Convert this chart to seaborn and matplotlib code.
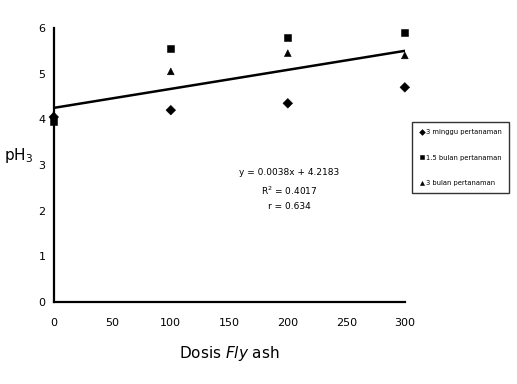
import numpy as np
import pandas as pd
import matplotlib
matplotlib.use('Agg')
import matplotlib.pyplot as plt
import seaborn as sns

dosis = [0, 100, 200, 300]
ph_3minggu = [4.05, 4.2, 4.35, 4.7]
ph_15bulan = [3.95, 5.55, 5.8, 5.9]
ph_3bulan = [4.1, 5.05, 5.45, 5.4]
labels = ['3 minggu pertanaman', '1.5 bulan pertanaman', '3 bulan pertanaman']
markers = ['D', 's', '^']
line_x = [0, 300]
line_y = [4.25, 5.5]

sns.set_style('white')
plt.rcParams['font.family'] = ['DejaVu Sans']
plt.rcParams['text.color'] = 'black'
plt.rcParams['axes.labelcolor'] = 'black'
plt.rcParams['xtick.color'] = 'black'
plt.rcParams['ytick.color'] = 'black'

rows = []
for lab, vals in zip(labels, [ph_3minggu, ph_15bulan, ph_3bulan]):
    for d, v in zip(dosis, vals):
        rows.append({'dosis': d, 'ph': v, 'waktu': lab})
df = pd.DataFrame(rows)

fig = plt.figure(figsize=(5.17, 3.84), dpi=100)
ax = fig.add_axes([0.104, 0.214, 0.679, 0.713])

sns.scatterplot(df, x='dosis', y='ph', hue='waktu', style='waktu',
                markers=dict(zip(labels, markers)),
                palette=['black'] * 3, s=24, edgecolor='black', ax=ax, legend=True,
                clip_on=False, zorder=5)
sns.lineplot(x=line_x, y=line_y, color='black', lw=1.8, ax=ax)

ax.set_xlim(0, 300)
ax.set_ylim(0, 6)
ax.set_xticks(range(0, 301, 50))
ax.set_yticks(range(0, 7))
ax.tick_params(direction='inout', length=5, width=1, labelsize=8, color='black')
ax.tick_params(axis='x', pad=9)
for s in ['top', 'right']:
    ax.spines[s].set_visible(False)
for s in ['left', 'bottom']:
    ax.spines[s].set_linewidth(1.6)
    ax.spines[s].set_color('black')
ax.set_xlabel('Dosis $\\it{Fly}$ ash', fontsize=11, labelpad=12)
ax.set_ylabel('pH$_3$', fontsize=11, rotation=0, labelpad=14)

ax.text(0.67, 0.41, 'y = 0.0038x + 4.2183\nR$^2$ = 0.4017\nr = 0.634',
        transform=ax.transAxes, ha='center', va='center', fontsize=6.5, linespacing=1.7)

h, l = ax.get_legend_handles_labels()
ax.legend_.remove()
fig.legend(h, l, loc='upper left', bbox_to_anchor=(0.797, 0.682), fontsize=4.9,
           frameon=True, fancybox=False, edgecolor='black', borderpad=1.0,
           borderaxespad=0, handlelength=1.0, handletextpad=0.1,
           markerscale=0.6, labelspacing=2.9)

fig.savefig('out.png', dpi=100)
